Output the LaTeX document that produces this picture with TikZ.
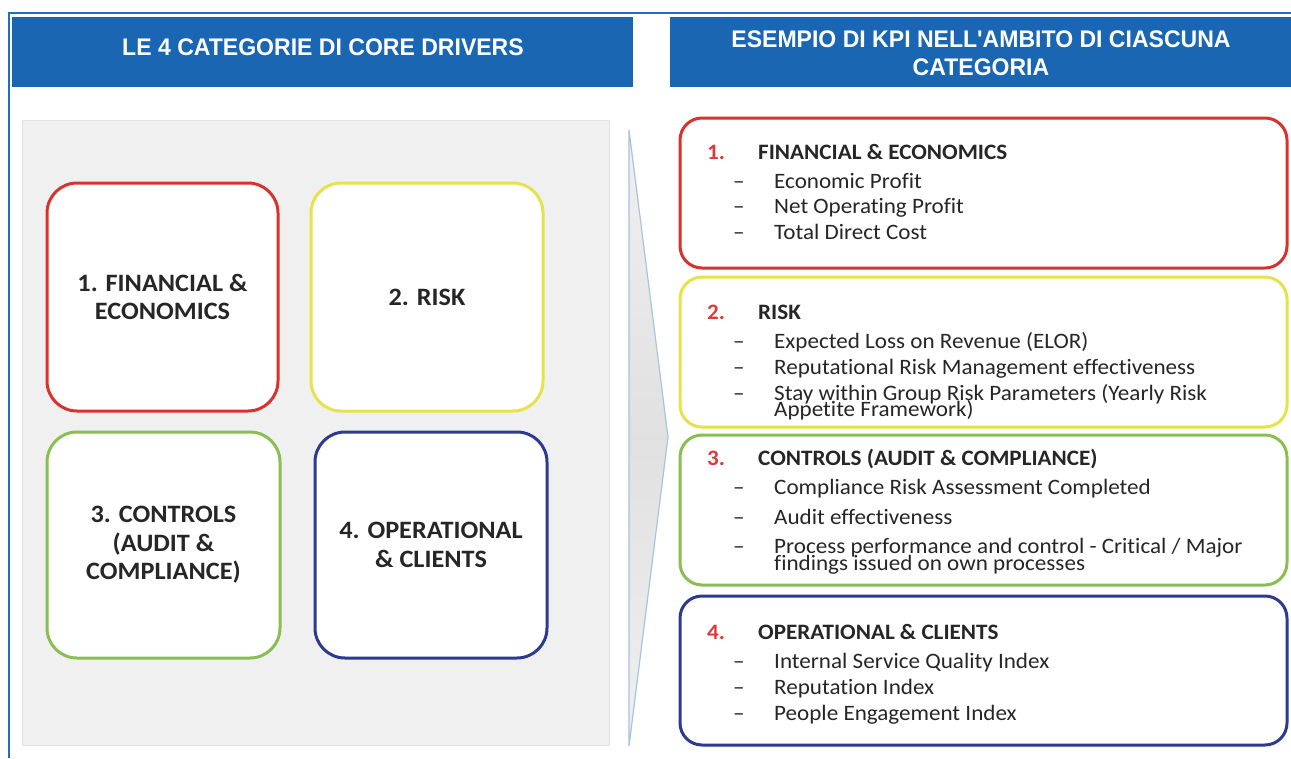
\documentclass[tikz,border=0pt]{standalone}
\usepackage{fontspec}
\setmainfont[FakeStretch=1.05, Ligatures=NoCommon]{Carlito}
\newfontfamily\hdrfont[FakeStretch=0.96]{Liberation Sans}
\usetikzlibrary{shadings}
\definecolor{hblue}{HTML}{1A66B2}
\definecolor{fblue}{HTML}{1F6FBE}
\definecolor{cred}{HTML}{D8322E}
\definecolor{cyel}{HTML}{E6E24C}
\definecolor{cgreen}{HTML}{8BBE52}
\definecolor{cnavy}{HTML}{2D3A90}
\definecolor{numred}{HTML}{DA3A3A}
\definecolor{txt}{HTML}{262626}
\definecolor{panel}{HTML}{F0F0F0}
\definecolor{panelb}{HTML}{E2E2E2}
\definecolor{chevb}{HTML}{A8C3E2}
\tikzset{
  hdrtxt/.style={text=white, font=\hdrfont\bfseries\fontsize{24}{28}\selectfont, align=center},
  catbox/.style={draw=#1, line width=3pt, fill=white, rounded corners=30pt},
  cattxt/.style={text=txt, font=\bfseries\fontsize{25}{28.5}\selectfont, align=center},
  kpibox/.style={draw=#1, line width=3pt, fill=white, rounded corners=22pt},
  kpinum/.style={anchor=base west, text=numred, font=\bfseries\fontsize{22}{24}\selectfont, inner sep=0pt},
  kpititle/.style={anchor=base west, text=txt, font=\bfseries\fontsize{22}{24}\selectfont, inner sep=0pt},
  kpidash/.style={anchor=base west, text=txt, font=\fontsize{22}{24}\selectfont, inner sep=0pt},
  kpiitem/.style={anchor=base west, text=txt, font=\fontsize{22}{24}\selectfont, inner sep=0pt},
}
\begin{document}
\begin{tikzpicture}[x=1pt,y=-1pt]
\useasboundingbox (0,0) rectangle (1291,758);
\fill[white] (0,0) rectangle (1291,758);
% outer frame
\draw[fblue, line width=2.5pt] (9,758) -- (9,13) -- (1291,13);
% headers
\fill[hblue] (12,17) rectangle (633,87);
\node[hdrtxt] (h1) at (323,47) {LE 4 CATEGORIE DI CORE DRIVERS};
\fill[hblue] (670,17) rectangle (1291,87);
\node[hdrtxt] (h2) at (981,53) {ESEMPIO DI KPI NELL'AMBITO DI CIASCUNA\\CATEGORIA};
% left panel
\draw[panelb, fill=panel, line width=1pt] (22,120) rectangle (609,745);
% chevron
\shade[top color=panel, bottom color=panel, middle color=gray!24, draw=chevb, line width=1.2pt]
  (629,130) -- (668,437) -- (629,746) -- cycle;
% category boxes
\node[catbox=cred, minimum width=231pt, minimum height=228pt] (c1) at (162.5,297) {};
\node[cattxt] (c1t) at (c1) {1. FINANCIAL \&\\ECONOMICS};
\node[catbox=cyel, minimum width=232pt, minimum height=228pt] (c2) at (427,297) {};
\node[cattxt] (c2t) at (c2) {2. RISK};
\node[catbox=cgreen, minimum width=233pt, minimum height=226pt] (c3) at (163.5,545) {};
\node[cattxt] (c3t) at (c3) {3. CONTROLS\\(AUDIT \&\\COMPLIANCE)};
\node[catbox=cnavy, minimum width=232pt, minimum height=226pt] (c4) at (431,545) {};
\node[cattxt] (c4t) at (431,545) {4. OPERATIONAL\\\& CLIENTS};
% KPI boxes
\node[kpibox=cred, minimum width=607pt, minimum height=150pt] (k1) at (983.5,193) {};
\node[kpibox=cyel, minimum width=607pt, minimum height=150pt] (k2) at (983.5,352) {};
\node[kpibox=cgreen, minimum width=607pt, minimum height=150pt] (k3) at (983.5,510) {};
\node[kpibox=cnavy, minimum width=607pt, minimum height=149pt] (k4) at (983.5,670.5) {};
% box 1
\node[kpinum] (n1) at (707,159) {1.};
\node[kpititle] (t1) at (758,159) {FINANCIAL \& ECONOMICS};
\node[kpidash] (d11) at (733,188) {–};
\node[kpiitem] (i11) at (774,188) {Economic Profit};
\node[kpidash] (d12) at (733,213) {–};
\node[kpiitem] (i12) at (774,213) {Net Operating Profit};
\node[kpidash] (d13) at (733,239) {–};
\node[kpiitem] (i13) at (774,239) {Total Direct Cost};
% box 2
\node[kpinum] (n2) at (707,319) {2.};
\node[kpititle] (t2) at (758,319) {RISK};
\node[kpidash] (d21) at (733,348) {–};
\node[kpiitem] (i21) at (774,348) {Expected Loss on Revenue (ELOR)};
\node[kpidash] (d22) at (733,374) {–};
\node[kpiitem] (i22) at (774,374) {Reputational Risk Management effectiveness};
\node[kpidash] (d23) at (733,400) {–};
\node[kpiitem] (i23) at (774,400) {Stay within Group Risk Parameters (Yearly Risk};
\node[kpiitem] (i23b) at (774,416) {Appetite Framework)};
% box 3
\node[kpinum] (n3) at (707,465) {3.};
\node[kpititle] (t3) at (758,465) {CONTROLS (AUDIT \& COMPLIANCE)};
\node[kpidash] (d31) at (733,494) {–};
\node[kpiitem] (i31) at (774,494) {Compliance Risk Assessment Completed};
\node[kpidash] (d32) at (733,524) {–};
\node[kpiitem] (i32) at (774,524) {Audit effectiveness};
\node[kpidash] (d33) at (733,553) {–};
\node[kpiitem] (i33) at (774,553) {Process performance and control - Critical / Major};
\node[kpiitem] (i33b) at (774,570) {findings issued on own processes};
% box 4
\node[kpinum] (n4) at (707,639) {4.};
\node[kpititle] (t4) at (758,639) {OPERATIONAL \& CLIENTS};
\node[kpidash] (d41) at (733,668) {–};
\node[kpiitem] (i41) at (774,668) {Internal Service Quality Index};
\node[kpidash] (d42) at (733,694) {–};
\node[kpiitem] (i42) at (774,694) {Reputation Index};
\node[kpidash] (d43) at (733,720) {–};
\node[kpiitem] (i43) at (774,720) {People Engagement Index};
\end{tikzpicture}
\end{document}
